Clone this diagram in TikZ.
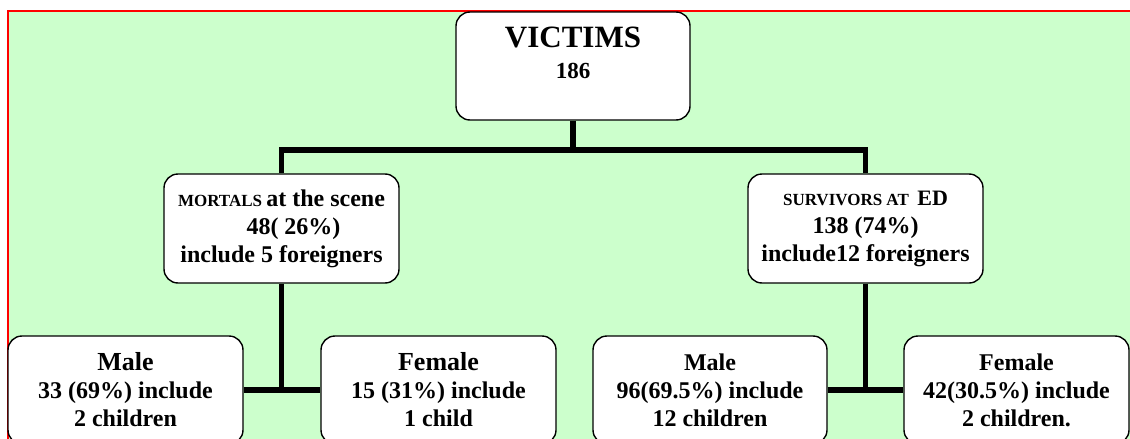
\documentclass[tikz,border=0pt]{standalone}
\usepackage{fontspec}
\setmainfont{Liberation Serif}
\usetikzlibrary{positioning}
\definecolor{bggreen}{HTML}{CCFFCC}
\newcommand{\fs}[1]{\fontsize{#1}{28}\selectfont}

\begin{document}
\begin{tikzpicture}[x=1pt,y=-1pt,
  box/.style={draw,line width=1.4pt,fill=white,rounded corners=14pt,align=center,
    font=\bfseries\fs{24},inner sep=0pt,minimum width=235pt,minimum height=109pt},
  conn/.style={line width=5.5pt}]
\useasboundingbox (0,0) rectangle (1130,439);
\clip (0,0) rectangle (1130,439);
% Background panel with red frame
\draw[red,line width=2pt,fill=bggreen] (8,11) rectangle (1150,460);
% Top box
\node[box,minimum width=234pt,minimum height=108pt,text depth=26pt,
  font=\bfseries\fontsize{31}{31}\selectfont] (victims) at (573,66)
  {VICTIMS\\ \fontsize{23}{31}\selectfont 186};
% Second level
\node[box] (mortals) at (281.5,228.5)
  {\fs{17}MORTALS \fs{24}at the scene\\ \hspace*{24pt}48( 26\%)\\ include 5 foreigners};
\node[box] (survivors) at (865.5,228.5)
  {\fs{17}SURVIVORS AT \ \fs{22}ED\\ 138 (74\%)\\ include12 foreigners};
% Third level
\node[box,minimum height=108pt] (male1) at (125.5,390)
  {\fs{26}Male\\ 33 (69\%) include\\ 2 children};
\node[box,minimum height=108pt] (female1) at (438.5,390)
  {\fs{26}Female\\ 15 (31\%) include\\ 1 child};
\node[box,minimum width=234pt,minimum height=108pt] (male2) at (710,390)
  {Male\\ 96(69.5\%) include\\ 12 children};
\node[box,minimum width=225pt,minimum height=108pt] (female2) at (1016.5,390)
  {Female\\ 42(30.5\%) include\\ 2 children.};
% Connectors
\coordinate (bus) at (573,150);
\draw[conn] (victims.south) -- (bus);
\draw[conn] (mortals.north) |- (bus) -| (survivors.north);
\draw[conn] (mortals.south) -- (mortals.south |- male1.east);
\draw[conn] (male1.east) -- (female1.west);
\draw[conn] (survivors.south) -- (survivors.south |- male2.east);
\draw[conn] (male2.east) -- (female2.west);
\end{tikzpicture}
\end{document}
